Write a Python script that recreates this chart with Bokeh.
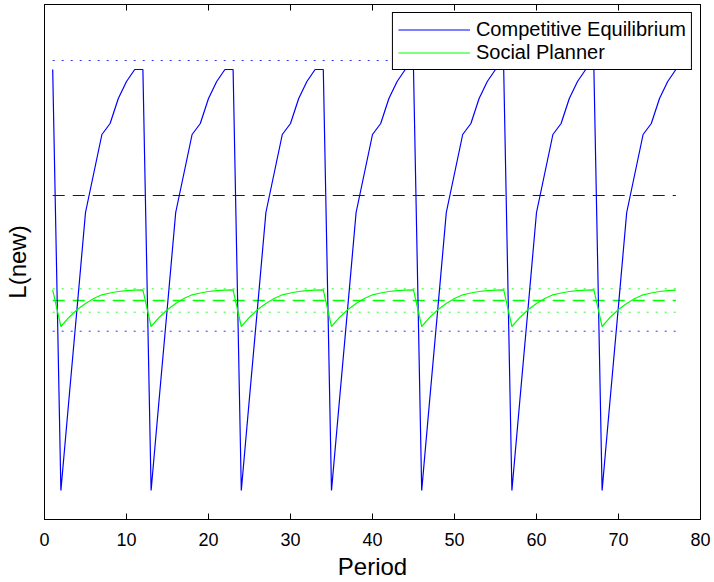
from bokeh.plotting import figure
from bokeh.models import LinearAxis, FixedTicker, Range1d, Legend, LegendItem
from bokeh.embed import file_html
from bokeh.resources import INLINE

# ---------------- data ----------------
period = list(range(1, 78))

competitive = [4.50,
    0.29, 1.22, 2.14, 3.07, 3.46, 3.85, 3.96, 4.21, 4.38, 4.50, 4.50,
    0.29, 1.22, 2.14, 3.07, 3.46, 3.85, 3.96, 4.21, 4.38, 4.50, 4.50,
    0.29, 1.22, 2.14, 3.07, 3.46, 3.85, 3.96, 4.21, 4.38, 4.50, 4.50,
    0.29, 1.22, 2.14, 3.07, 3.46, 3.85, 3.96, 4.21, 4.38, 4.50, 4.50,
    0.29, 1.22, 2.14, 3.07, 3.46, 3.85, 3.96, 4.21, 4.38, 4.50, 4.50,
    0.29, 1.22, 2.14, 3.07, 3.46, 3.85, 3.96, 4.21, 4.38, 4.50, 4.50,
    0.29, 1.22, 2.14, 3.07, 3.46, 3.85, 3.96, 4.21, 4.38, 4.50]

planner = [2.297,
    1.930, 2.023, 2.100, 2.160, 2.210, 2.247, 2.265, 2.280, 2.288, 2.294, 2.297,
    1.930, 2.023, 2.100, 2.160, 2.210, 2.247, 2.265, 2.280, 2.288, 2.294, 2.297,
    1.930, 2.023, 2.100, 2.160, 2.210, 2.247, 2.265, 2.280, 2.288, 2.294, 2.297,
    1.930, 2.023, 2.100, 2.160, 2.210, 2.247, 2.265, 2.280, 2.288, 2.294, 2.297,
    1.930, 2.023, 2.100, 2.160, 2.210, 2.247, 2.265, 2.280, 2.288, 2.294, 2.297,
    1.930, 2.023, 2.100, 2.160, 2.210, 2.247, 2.265, 2.280, 2.288, 2.294, 2.297,
    1.930, 2.023, 2.100, 2.160, 2.210, 2.247, 2.265, 2.280, 2.288, 2.294]

ref_x = [1, 77]
ce_mean = 3.24
ce_band = [4.59, 1.883]
sp_mean = 2.19
sp_band = [2.307, 2.073]

x_ticks = [0, 10, 20, 30, 40, 50, 60, 70, 80]
x_limits = (0, 80)
y_limits = (0, 5.15)

BLUE = "#0000ff"
GREEN = "#00ff00"
FONT = "Liberation Sans"

p = figure(width=714, height=582, output_backend="svg", toolbar_location=None,
           x_range=Range1d(*x_limits), y_range=Range1d(*y_limits),
           min_border_left=43, min_border_right=14, min_border_top=4, min_border_bottom=63,
           x_axis_label="Period", y_axis_label="L(new)")
p.grid.visible = False
p.outline_line_color = "black"
p.background_fill_color = "white"
p.border_fill_color = "white"

# reference lines
for yv in ce_band:
    p.line(ref_x, [yv, yv], line_color=BLUE, line_width=1, line_dash="2 7", line_alpha=0.8)
p.line(ref_x, [ce_mean, ce_mean], line_color=BLUE, line_width=1.2, line_dash="12 8")
for yv in sp_band:
    p.line(ref_x, [yv, yv], line_color=GREEN, line_width=1, line_dash="2 7", line_alpha=0.85)
p.line(ref_x, [sp_mean, sp_mean], line_color=GREEN, line_width=1.5, line_dash="12 8")

r_ce = p.line(period, competitive, line_color=BLUE, line_width=1.2)
r_sp = p.line(period, planner, line_color=GREEN, line_width=1.2)

# axes
xa = p.xaxis[0]
xa.ticker = FixedTicker(ticks=x_ticks)
xa.minor_tick_line_color = None
xa.major_tick_in = 6
xa.major_tick_out = 0
xa.major_label_text_font = FONT
xa.major_label_text_font_size = "18px"
xa.major_label_text_color = "black"
xa.major_label_standoff = 13
xa.axis_label_text_font = FONT
xa.axis_label_text_font_size = "24px"
xa.axis_label_text_font_style = "normal"
xa.axis_label_text_color = "black"
xa.axis_label_standoff = 4
xa.axis_line_color = "black"
xa.major_tick_line_color = "black"

ya = p.yaxis[0]
ya.ticker = FixedTicker(ticks=[])
ya.major_tick_line_color = None
ya.minor_tick_line_color = None
ya.major_label_text_font_size = "1px"
ya.major_label_text_color = None
ya.major_label_standoff = 0
ya.axis_label_text_font = FONT
ya.axis_label_text_font_size = "24px"
ya.axis_label_text_font_style = "normal"
ya.axis_label_text_color = "black"
ya.axis_label_standoff = 14
ya.axis_line_color = "black"

top = LinearAxis(ticker=FixedTicker(ticks=x_ticks))
top.major_label_text_font_size = "1px"
top.major_label_text_color = None
top.major_label_standoff = 0
top.minor_tick_line_color = None
top.major_tick_in = 6
top.major_tick_out = 0
top.axis_line_color = "black"
top.major_tick_line_color = "black"
p.add_layout(top, "above")

legend = Legend(items=[LegendItem(label="Competitive Equilibrium", renderers=[r_ce]),
                       LegendItem(label="Social Planner", renderers=[r_sp])],
                location="top_right")
legend.label_text_font = FONT
legend.label_text_font_size = "20px"
legend.label_text_color = "black"
legend.label_height = 21
legend.glyph_height = 21
legend.glyph_width = 72
legend.label_standoff = 6
legend.spacing = 0
legend.padding = 5
legend.margin = 8
legend.border_line_color = "black"
legend.border_line_width = 1
legend.border_line_alpha = 1
legend.background_fill_color = "white"
legend.background_fill_alpha = 1
p.add_layout(legend, "center")

open("out.html", "w").write(file_html(p, INLINE))
